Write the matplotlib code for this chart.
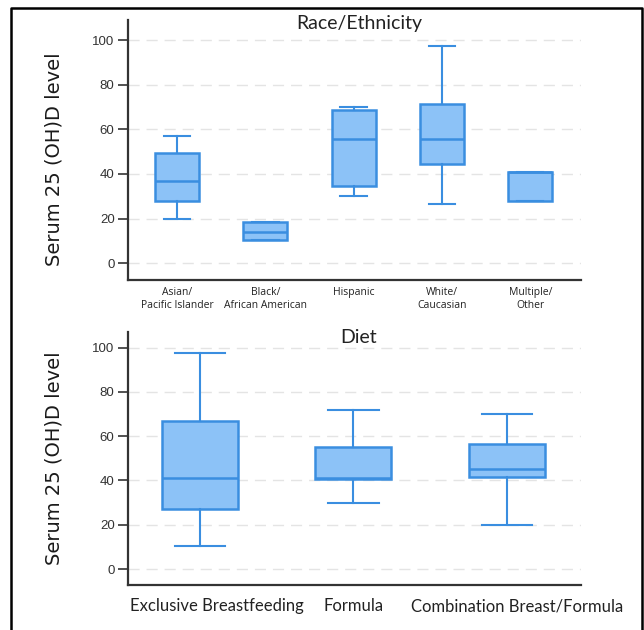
import matplotlib
matplotlib.use('Agg')
import matplotlib.pyplot as plt
from matplotlib.lines import Line2D
from matplotlib.transforms import ScaledTranslation

# Box values (whisker low, Q1, median, Q3, whisker high)

race_labels = ['Asian/\nPacific Islander', 'Black/\nAfrican American', 'Hispanic',
               'White/\nCaucasian', 'Multiple/\nOther']
race_whislo = [20, 10.3, 30, 26.5, 28]
race_q1 = [28, 10.3, 34.5, 44.5, 28]
race_med = [37, 14, 55.5, 55.5, 41]
race_q3 = [49.5, 18.5, 68.5, 71.5, 41]
race_whishi = [57, 18.5, 70, 97.5, 41]

diet_labels = ['Exclusive Breastfeeding', 'Formula', 'Combination Breast/Formula']
diet_whislo = [10.5, 30, 20]
diet_q1 = [27, 40.5, 41.5]
diet_med = [41, 41, 45]
diet_q3 = [67, 55, 56.5]
diet_whishi = [97.5, 72, 70]

yticks = [0, 20, 40, 60, 80, 100]

fill_c = '#8cc2f7'
edge_c = '#3a8ee0'
axis_c = '#333333'


def make_stats(labels, lo, q1, med, q3, hi):
    stats = []
    for i in range(len(labels)):
        stats.append({'label': labels[i], 'whislo': lo[i], 'q1': q1[i], 'med': med[i],
                      'q3': q3[i], 'whishi': hi[i], 'fliers': []})
    return stats


def style_axes(ax, ylim, xlim):
    ax.set_ylim(ylim)
    ax.set_xlim(xlim)
    ax.set_yticks(yticks)
    ax.set_yticklabels([str(v) for v in yticks], family='Liberation Sans', fontsize=9.5, color=axis_c)
    for v in yticks:
        ax.axhline(v, color='#e4e4e4', lw=1, ls=(0, (8, 5)), zorder=0)
    for s in ['top', 'right']:
        ax.spines[s].set_visible(False)
    for s in ['left', 'bottom']:
        ax.spines[s].set_color(axis_c)
        ax.spines[s].set_linewidth(1.6)
    ax.tick_params(axis='y', length=7, width=1.2, color=axis_c, pad=3)
    ax.tick_params(axis='x', length=0)
    ax.set_ylabel('Serum 25 (OH)D level', family='DejaVu Sans', fontsize=14, color='#1a1a1a')


def draw_boxes(ax, stats, width, capw):
    ax.bxp(stats, positions=range(1, len(stats) + 1), widths=width, capwidths=capw,
           patch_artist=True, showfliers=False,
           boxprops=dict(facecolor=fill_c, edgecolor=edge_c, linewidth=1.8),
           medianprops=dict(color=edge_c, linewidth=1.8),
           whiskerprops=dict(color=edge_c, linewidth=1.5),
           capprops=dict(color=edge_c, linewidth=1.5))


fig = plt.figure(figsize=(6.44, 6.30), dpi=100)

# Race / ethnicity panel
ax1 = fig.add_axes([0.1995, 0.5556, 0.702, 0.4127])
draw_boxes(ax1, make_stats(race_labels, race_whislo, race_q1, race_med, race_q3, race_whishi), 0.5, 0.3)
style_axes(ax1, (-7.5, 109), (0.45, 5.57))
ax1.set_xticks(range(1, len(race_labels) + 1))
ax1.set_xticklabels(race_labels, family='Open Sans', fontsize=7.5, color='#222222', linespacing=1.2)
ax1.tick_params(axis='x', pad=5)
ax1.yaxis.set_label_coords(-0.143, 0.465)
ax1.text(0.51, 0.964, 'Race/Ethnicity', transform=ax1.transAxes, ha='center', va='baseline',
         family='Lato', fontsize=14, color='#222222')

# Diet panel
ax2 = fig.add_axes([0.1995, 0.0722, 0.702, 0.4013])
draw_boxes(ax2, make_stats(diet_labels, diet_whislo, diet_q1, diet_med, diet_q3, diet_whishi), 0.495, 0.33)
style_axes(ax2, (-7, 107.2), (0.534, 3.48))
ax2.set_xticks(range(1, len(diet_labels) + 1))
ax2.set_xticklabels(diet_labels, family='Lato', fontsize=12, color='#222222')
ax2.tick_params(axis='x', pad=10)
ax2.yaxis.set_label_coords(-0.143, 0.498)
ax2.text(0.51, 0.955, 'Diet', transform=ax2.transAxes, ha='center', va='baseline',
         family='Lato', fontsize=14, color='#222222')

# the labels in the source sit a bit right of their boxes
shifts = [17, 0, 10]
for lab, dx in zip(ax2.get_xticklabels(), shifts):
    lab.set_transform(lab.get_transform() + ScaledTranslation(dx / 100, 0, fig.dpi_scale_trans))

# outer frame (left, top, right)
W, H = 644.0, 630.0
xs = [11 / W, 11 / W, 642 / W, 642 / W]
ys = [0, 1 - 8 / H, 1 - 8 / H, 0]
fig.add_artist(Line2D(xs, ys, transform=fig.transFigure, color='black', lw=1.8))

fig.savefig('out.png', dpi=100)
print('Saving out.png')
